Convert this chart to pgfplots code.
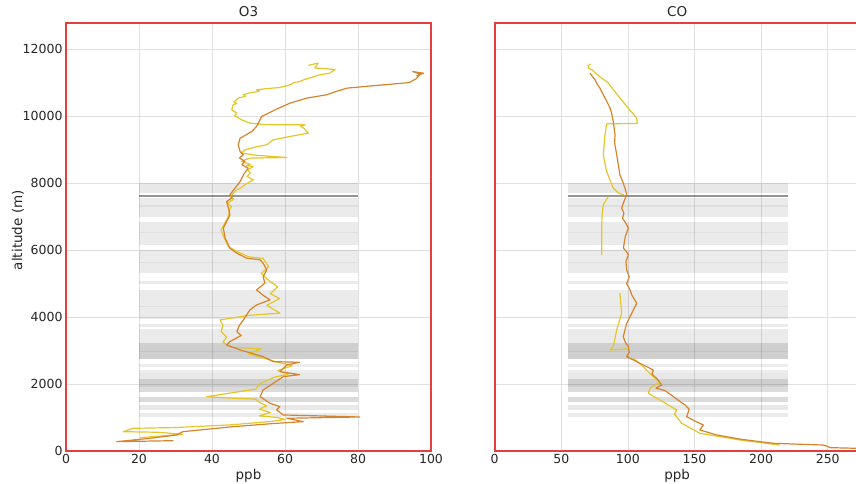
\documentclass[border=0pt]{standalone}
\usepackage{fontspec}
\setmainfont{DejaVu Sans}
\usepackage{pgfplots}
\pgfplotsset{compat=1.18}

\definecolor{framered}{RGB}{228,62,62}
\definecolor{legA}{RGB}{214,132,44}
\definecolor{legB}{RGB}{228,198,40}
\definecolor{gridc}{RGB}{224,224,224}

% one sampling band: x0 x1 ylo yhi opacity
\newcommand{\band}[5]{\addplot[draw=none, fill=black, fill opacity=#5, forget plot]
  coordinates {(#1,#3) (#2,#3) (#2,#4) (#1,#4)} -- cycle;}
% all sampling bands between x0 and x1
\newcommand{\bands}[2]{%
  \band{#1}{#2}{7700}{8000}{0.09}
  \band{#1}{#2}{7580}{7650}{0.42}
  \band{#1}{#2}{7000}{7560}{0.08}
  \band{#1}{#2}{7300}{7340}{0.05}
  \band{#1}{#2}{6160}{6850}{0.08}
  \band{#1}{#2}{6500}{6540}{0.05}
  \band{#1}{#2}{5310}{6000}{0.08}
  \band{#1}{#2}{5600}{5640}{0.05}
  \band{#1}{#2}{4990}{5090}{0.08}
  \band{#1}{#2}{3935}{4810}{0.08}
  \band{#1}{#2}{4300}{4340}{0.05}
  \band{#1}{#2}{3714}{3795}{0.08}
  \band{#1}{#2}{3218}{3636}{0.08}
  \band{#1}{#2}{2740}{3218}{0.19}
  \band{#1}{#2}{2950}{3000}{0.06}
  \band{#1}{#2}{2500}{2600}{0.07}
  \band{#1}{#2}{2340}{2420}{0.07}
  \band{#1}{#2}{2142}{2340}{0.09}
  \band{#1}{#2}{1920}{2142}{0.19}
  \band{#1}{#2}{1772}{1920}{0.14}
  \band{#1}{#2}{1473}{1622}{0.14}
  \band{#1}{#2}{1225}{1375}{0.09}
  \band{#1}{#2}{1026}{1126}{0.08}
}

\pgfplotsset{
  profile/.style={
    scale only axis, width=365pt, height=428pt,
    ymin=0, ymax=12780,
    ytick={0,2000,...,12000},
    scaled y ticks=false, scaled x ticks=false,
    grid=major, major grid style={gridc, line width=0.6pt},
    major tick length=0pt,
    axis line style={framered, line width=1.6pt},
    /pgf/number format/assume math mode=true,
    /pgf/number format/1000 sep={},
    tick label style={font=\fontsize{12.5}{14}\selectfont, text=black!85},
    label style={font=\fontsize{13.5}{15}\selectfont, text=black!85},
    title style={font=\fontsize{13.5}{15}\selectfont, text=black!85, yshift=-3pt},
    xlabel={ppb},
    x label style={at={(axis description cs:0.5,0)}, anchor=center, yshift=-25pt},
    every axis plot/.append style={line width=1.2pt, line join=round},
  },
}

\begin{document}
\begin{tikzpicture}
\path[use as bounding box] (0pt,0pt) rectangle (856pt,484pt);
\clip (0pt,0pt) rectangle (856pt,484pt);

% ---------------- ozone ----------------
\begin{axis}[profile, at={(66pt,33pt)}, anchor=south west,
  xmin=0, xmax=100, xtick={0,20,...,100},
  title={O3}, ylabel={altitude (m)},
  y label style={at={(axis description cs:-0.1315,0.516)}, anchor=center}]
\bands{20}{80}
\addplot[legB] coordinates {
(66.4,11515) (69.1,11585) (68.2,11435) (71.4,11415) (73.7,11385) (72.3,11285)
(69.6,11235) (66.8,11135) (65.5,11100) (64.1,11035) (62.5,11000) (61.4,10935)
(58.6,10855) (55,10820) (52.2,10787) (53,10740) (50.5,10700) (48.6,10637)
(49.2,10590) (47.2,10538) (46,10420) (46.8,10380) (45.8,10340) (45.4,10190)
(46.8,10090) (46.2,10010) (48.1,9890) (50.4,9790) (55,9740) (65.5,9740)
(64.3,9700) (65.1,9640) (66.4,9492) (61.4,9392) (58.5,9330) (56.8,9293) (55,9143)
(52,9080) (49,8994) (48,8900) (52,8830) (60.5,8764) (50.4,8745) (48,8650)
(50.5,8560) (49.4,8520) (51.3,8495) (49.8,8400) (50.5,8300) (49.6,8200)
(51.3,8098) (49,7950) (47.8,7850) (46.5,7780) (45,7600) (46,7520) (44.2,7400)
(45.3,7300) (44.8,7200) (44.5,7000) (43.5,6800) (42.5,6600) (43.2,6400)
(44.5,6100) (47,5950) (50,5800) (54,5750) (55.5,5500) (53.5,5300) (55.5,5100)
(58,4900) (56,4700) (58.5,4550) (55,4350) (58.6,4114) (50,4050) (42.2,3914)
(43,3750) (42.5,3565) (44,3400) (43,3250) (45,3100) (53.5,3050) (50,2900)
(55,2750) (58,2650) (62,2550) (58,2400) (61,2300) (57,2200) (53,2000) (52,1850)
(48,1780) (38.5,1622) (45,1580) (52,1550) (53,1450) (55,1350) (53,1250)
(56,1150) (53,1050) (58,1000) (60,940) (56,880) (45,780) (30,700) (18.4,678)
(15.7,577) (25,560) (32,500) (24,430) (20.3,400)
};
\addplot[legA] coordinates {
(96,11200) (98,11280) (95,11330) (97,11250) (96,11120) (94,11000) (85,10915)
(77,10835) (74,10735) (71.4,10637) (66,10538) (61.4,10388) (57.3,10190)
(55.5,10090) (53.6,9990) (52.7,9790) (52.2,9690) (50.9,9540) (47.7,9340)
(47.2,9140) (47.7,8940) (48.6,8845) (47.5,8750) (49,8650) (48.2,8550)
(49.9,8445) (48.6,8245) (47.7,8045) (46.3,7850) (44.9,7650) (45.5,7560)
(44,7450) (44.5,7250) (44.9,7050) (44,6850) (43.1,6655) (43.6,6355) (44.9,6057)
(46.8,5907) (49.5,5758) (53.2,5707) (54,5608) (55,5408) (54,5208) (54.5,5011)
(52.2,4811) (54,4650) (55.9,4512) (52.2,4362) (50.4,4213) (49.5,4064)
(48.6,3914) (47.5,3750) (46.8,3565) (48,3450) (44.9,3266) (44,3167) (47.7,3018)
(54,2818) (56.8,2668) (64,2650) (60.5,2570) (58.6,2370) (64,2280) (59.5,2220)
(56.8,2022) (54,1823) (53.2,1622) (55.9,1425) (58.6,1324) (57.7,1225)
(59.5,1076) (80.5,1016) (60.5,977) (65,877) (56.8,820) (45.8,727) (36.7,628)
(32,577) (30.3,478) (23,379) (13.9,279) (29.4,308)
};
\end{axis}

% ---------------- carbon monoxide ----------------
\begin{axis}[profile, at={(494.7pt,33pt)}, anchor=south west,
  xmin=0, xmax=274, xtick={0,50,...,250}, yticklabels={},
  title={CO}]
\bands{55}{220}
\addplot[legB] coordinates {
(72,11560) (70,11500) (70.5,11430) (73,11380) (78,11200) (85,11000) (94,10538)
(100,10250) (106.6,9940) (107,9780) (84,9770) (82.8,9442) (81.5,8845) (84,8346)
(89,7850) (93,7700) (97,7650)
};
\addplot[legB] coordinates {
(85.3,7600) (81.5,7351) (80.5,7000) (80.3,6553) (80.3,5857)
};
\addplot[legB] coordinates {
(94,4712) (95.3,4114) (91.6,3615) (89,3117) (86.6,3018) (100.3,3050)
};
\addplot[legB] coordinates {
(104,2770) (112,2500) (119,2220) (124,2050) (116.6,1873) (115.3,1724) (125,1500)
(136.6,1225) (135,1100) (140.4,828) (154,529) (184,329) (214,179)
};
\addplot[legA] coordinates {
(71.5,11285) (73,11200) (75.3,11085) (77,10950) (79,10836) (82,10600)
(84,10450) (86.6,10240) (88,10050) (89,9840) (90.3,9442) (90,9200) (91.6,8845)
(92.8,8546) (94,8247) (96,8050) (97.8,7850) (99.1,7650) (97,7450) (95.3,7252)
(97,7100) (96,6950) (98.5,6800) (100.3,6655) (98,6400) (96.6,6057) (99,5950)
(100.3,5857) (98.5,5650) (99.1,5408) (101,5200) (99,5000) (101.6,4811)
(103,4650) (106.6,4413) (104,4200) (101.6,4013) (99,3800) (96.5,3415) (98,3250)
(100.3,3117) (101,2950) (99.1,2818) (109,2620) (119,2420) (118,2300) (122,2150)
(125.4,1972) (121,1880) (128,1800) (135,1600) (140,1450) (142.9,1375)
(146,1250) (144.1,1025) (150,900) (156.6,777) (154,628) (166.7,478) (185,350)
(209,230) (230,200) (246.7,179) (250.5,128) (252,100) (272,80) (280,75)
};
\end{axis}
\end{tikzpicture}
\end{document}
